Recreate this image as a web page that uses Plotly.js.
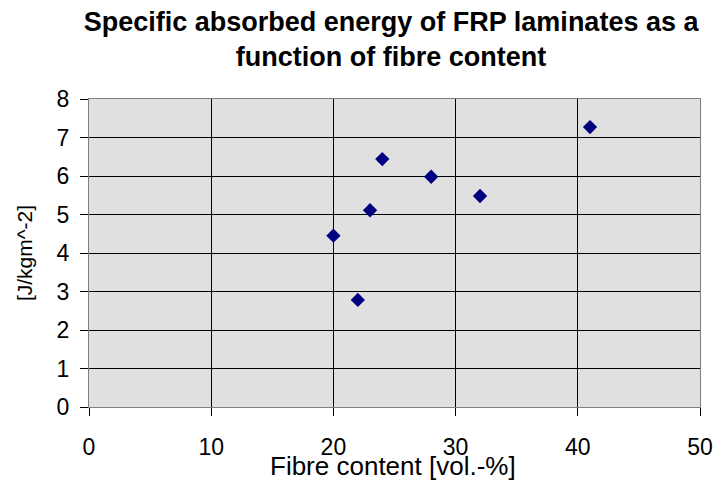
<!DOCTYPE html>
<html><head><meta charset="utf-8">
<script src="https://cdn.plot.ly/plotly-3.0.1.min.js"></script>
<style>body{margin:0;background:#fff}#chart{width:715px;height:489px}</style>
</head><body><div id="chart"></div>
<script>
const fibreContent = [20, 22, 23, 24, 28, 32, 41];
const absorbedEnergy = [4.45, 2.78, 5.11, 6.44, 5.98, 5.48, 7.27];
const xTicks = [0, 10, 20, 30, 40, 50];
const yTicks = [0, 1, 2, 3, 4, 5, 6, 7, 8];
const xTitle = 'Fibre content [vol.-%]';

const trace = {
  x: fibreContent, y: absorbedEnergy, type: 'scatter', mode: 'markers',
  marker: {symbol: 'diamond', size: 11, color: '#000080'},
  hoverinfo: 'none'
};
const layout = {
  width: 715, height: 489,
  margin: {l: 89, r: 15, t: 99, b: 82},
  paper_bgcolor: '#ffffff', plot_bgcolor: '#e0e0e0',
  font: {family: 'Liberation Sans, Arial, sans-serif', color: '#000', size: 20},
  title: {text: 'Specific absorbed energy of FRP laminates as a<br>function of fibre content',
    font: {size: 27, family: 'Liberation Sans, Arial, sans-serif', weight: 'bold'},
    x: 0.547, xanchor: 'center', y: 0.936, yanchor: 'top'},
  showlegend: false,
  xaxis: {range: [0, 50], tickvals: xTicks, ticktext: xTicks.map(String),
    showgrid: true, gridcolor: '#000', gridwidth: 1, zeroline: false,
    showline: true, linecolor: '#808080', linewidth: 1, mirror: true,
    ticks: 'outside', ticklen: 8, tickcolor: '#000', tickfont: {size: 23},
    ticklabelstandoff: 11},
  yaxis: {range: [0, 8], tickvals: yTicks, ticktext: yTicks.map(String),
    showgrid: true, gridcolor: '#000', gridwidth: 1, zeroline: false,
    showline: true, linecolor: '#808080', linewidth: 1, mirror: true,
    ticks: 'outside', ticklen: 8, tickcolor: '#000', tickfont: {size: 23},
    ticklabelstandoff: 6,
    title: {text: '[J/kgm^-2]', font: {size: 21}, standoff: 18}},
  annotations: [{text: xTitle, xref: 'paper', yref: 'paper', x: 0.497, y: -0.192,
    xanchor: 'center', yanchor: 'middle', showarrow: false, font: {size: 26}}]
};
Plotly.newPlot('chart', [trace], layout, {staticPlot: true});
</script></body></html>
